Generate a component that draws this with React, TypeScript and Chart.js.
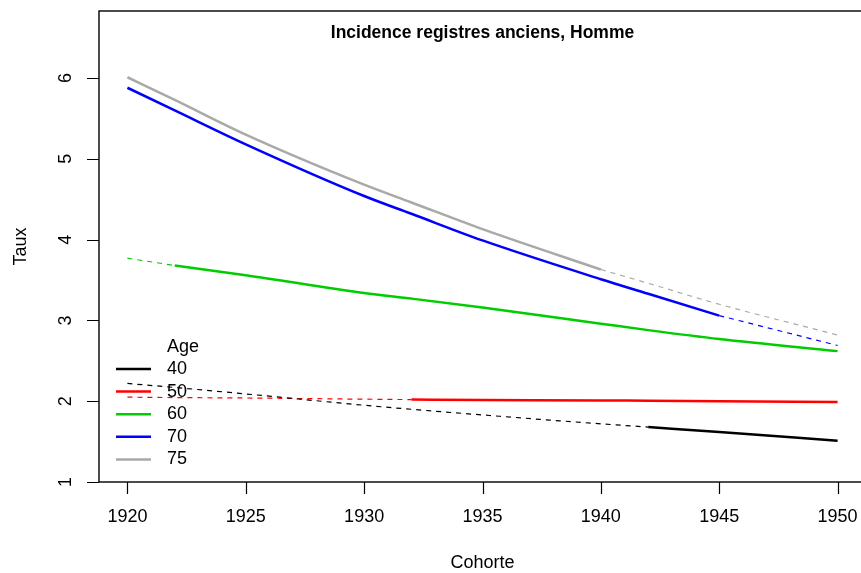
import React, { useEffect, useRef } from "react";
import { Chart, registerables } from "chart.js";

Chart.register(...registerables);

// ---- data ----
const cohorts = [1920, 1922, 1925, 1930, 1932, 1935, 1940, 1942, 1945, 1950];
const ages = ["40", "50", "60", "70", "75"];
const rate40 = [2.22, 2.17, 2.09, 1.95, 1.9, 1.83, 1.72, 1.68, 1.62, 1.51];
const rate50 = [2.05, 2.045, 2.04, 2.025, 2.02, 2.015, 2.01, 2.005, 2.0, 1.99];
const rate60 = [3.77, 3.68, 3.56, 3.34, 3.27, 3.16, 2.96, 2.88, 2.77, 2.62];
const rate70 = [5.88, 5.6, 5.18, 4.54, 4.32, 3.99, 3.51, 3.33, 3.06, 2.69];
const rate75 = [6.01, 5.73, 5.3, 4.68, 4.46, 4.13, 3.63, 3.46, 3.2, 2.82];
const obsStart = [1942, 1932, 1922, 1920, 1920];
const obsEnd = [1950, 1950, 1950, 1945, 1940];
const colors = ["#000000", "#FF0000", "#00CD00", "#0000FF", "#A9A9A9"];
const xTicks = [1920, 1925, 1930, 1935, 1940, 1945, 1950];
const yTicks = [1, 2, 3, 4, 5, 6];
const titleText = "Incidence registres anciens, Homme";
const xTitle = "Cohorte";
const yTitle = "Taux";
const legendTitle = "Age";

const rates = [rate40, rate50, rate60, rate70, rate75];
const FONT = "'Liberation Sans', Arial, Helvetica, sans-serif";

function buildDatasets() {
  const ds: any[] = [];
  rates.forEach((vals, i) => {
    const pts = cohorts.map((c, k) => ({ x: c, y: vals[k] }));
    const before = pts.filter((p) => p.x <= obsStart[i]);
    const solid = pts.filter((p) => p.x >= obsStart[i] && p.x <= obsEnd[i]);
    const after = pts.filter((p) => p.x >= obsEnd[i]);
    const base = {
      borderColor: colors[i],
      backgroundColor: colors[i],
      pointRadius: 0,
      fill: false,
      cubicInterpolationMode: "monotone",
    };
    if (before.length > 1)
      ds.push({ ...base, label: ages[i] + "b", data: before, borderWidth: 1.2, borderDash: [5, 5] });
    if (after.length > 1)
      ds.push({ ...base, label: ages[i] + "a", data: after, borderWidth: 1.2, borderDash: [5, 5] });
    if (solid.length > 1)
      ds.push({ ...base, label: ages[i], data: solid, borderWidth: 2.5 });
  });
  return ds;
}

const decorPlugin = {
  id: "decor",
  afterDraw(chart: any) {
    const { ctx, chartArea, scales } = chart;
    const xs = scales.x;
    const ys = scales.y;
    ctx.save();
    ctx.fillStyle = "#000";
    ctx.strokeStyle = "#000";
    ctx.lineWidth = 1.4;
    // box
    ctx.strokeRect(chartArea.left, chartArea.top, chartArea.right - chartArea.left, chartArea.bottom - chartArea.top);
    // ticks
    ctx.font = `18px ${FONT}`;
    ctx.textAlign = "center";
    ctx.textBaseline = "middle";
    ctx.beginPath();
    xTicks.forEach((t) => {
      const px = Math.round(xs.getPixelForValue(t)) + 0.5;
      ctx.moveTo(px, chartArea.bottom);
      ctx.lineTo(px, chartArea.bottom + 12);
    });
    yTicks.forEach((t) => {
      const py = Math.round(ys.getPixelForValue(t)) + 0.5;
      ctx.moveTo(chartArea.left, py);
      ctx.lineTo(chartArea.left - 12, py);
    });
    ctx.lineWidth = 1.2;
    ctx.stroke();
    xTicks.forEach((t) => {
      ctx.fillText(String(t), xs.getPixelForValue(t), chartArea.bottom + 35);
    });
    yTicks.forEach((t) => {
      ctx.save();
      ctx.translate(chartArea.left - 33, ys.getPixelForValue(t));
      ctx.rotate(-Math.PI / 2);
      ctx.fillText(String(t), 0, 0);
      ctx.restore();
    });
    // axis titles
    const cx = (chartArea.left + chartArea.right) / 2;
    const cy = (chartArea.top + chartArea.bottom) / 2;
    ctx.fillText(xTitle, cx, 563);
    ctx.save();
    ctx.translate(21, cy);
    ctx.rotate(-Math.PI / 2);
    ctx.fillText(yTitle, 0, 0);
    ctx.restore();
    // main title
    ctx.font = `bold 17.5px ${FONT}`;
    ctx.fillText(titleText, cx, 33);
    // legend
    ctx.font = `18px ${FONT}`;
    ctx.textAlign = "left";
    ctx.fillText(legendTitle, 167, 347);
    ages.forEach((a, i) => {
      const y = 369 + i * 22.6;
      ctx.beginPath();
      ctx.strokeStyle = colors[i];
      ctx.lineWidth = 2.5;
      ctx.moveTo(116, y);
      ctx.lineTo(151, y);
      ctx.stroke();
      ctx.fillStyle = "#000";
      ctx.fillText(a, 167, y);
    });
    ctx.restore();
  },
};

export default function App() {
  const ref = useRef<HTMLCanvasElement>(null);
  useEffect(() => {
    if (!ref.current) return;
    const chart = new Chart(ref.current, {
      type: "line",
      data: { datasets: buildDatasets() },
      options: {
        animation: false,
        responsive: false,
        devicePixelRatio: 1,
        layout: { padding: { left: 99, top: 11, right: 14, bottom: 91 } },
        plugins: { legend: { display: false }, tooltip: { enabled: false }, title: { display: false } },
        scales: {
          x: { type: "linear", min: 1918.8, max: 1951.2, display: false },
          y: { type: "linear", min: 1, max: 6.83, display: false },
        },
      } as any,
      plugins: [decorPlugin],
    });
    return () => chart.destroy();
  }, []);
  return (
    <div style={{ position: "fixed", left: 0, top: 0, width: 861, height: 573, overflow: "hidden", background: "#fff" }}>
      <canvas ref={ref} width={880} height={573} style={{ display: "block", width: 880, height: 573 }} />
    </div>
  );
}
